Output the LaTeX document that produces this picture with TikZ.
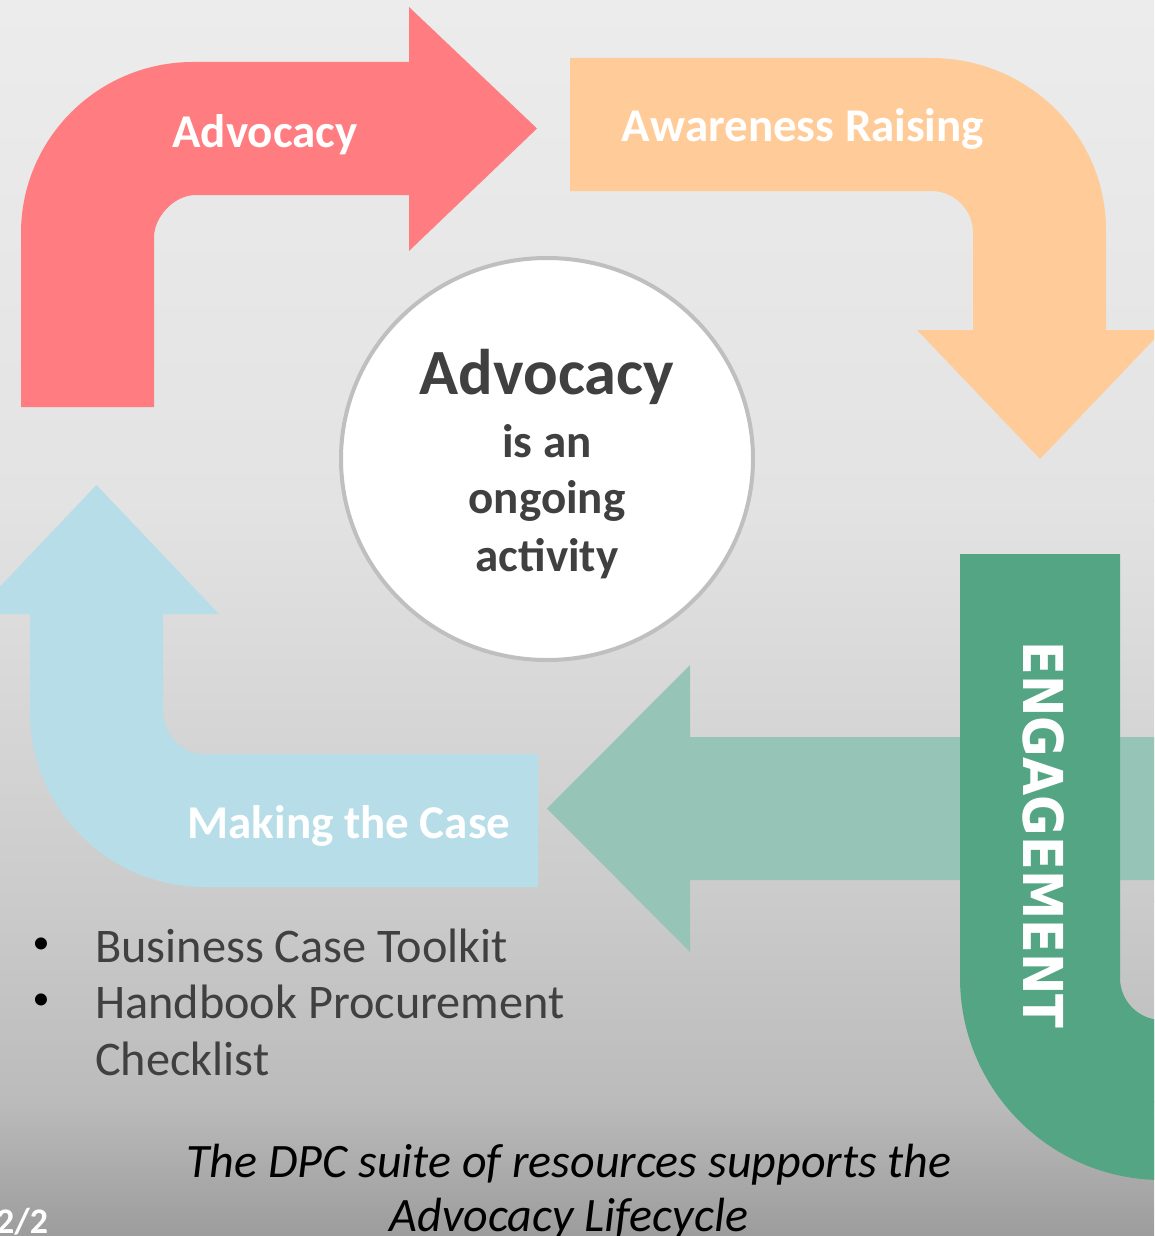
\documentclass[tikz,border=0pt]{standalone}
\usepackage{fontspec}
\setmainfont{Carlito}
\newfontfamily\engfont{DejaVu Sans Condensed}
\definecolor{redA}{HTML}{FF7C80}
\definecolor{orangeA}{HTML}{FFCC99}
\definecolor{blueA}{HTML}{B7DEE8}
\definecolor{tealA}{HTML}{96C4B7}
\definecolor{greenA}{HTML}{53A584}
\definecolor{txtgray}{HTML}{404040}
\definecolor{ringgray}{HTML}{BFBFBF}
\definecolor{bgA}{HTML}{EBECEB}
\definecolor{bgB}{HTML}{E3E3E3}
\definecolor{bgC}{HTML}{CBCBCB}
\definecolor{bgD}{HTML}{BBBBBB}
\definecolor{bgE}{HTML}{9C9C9C}
\begin{document}
\begin{tikzpicture}[x=1pt,y=-1pt,
  lbl/.style={text=white,font=\fontsize{47}{56}\selectfont\bfseries,inner sep=0pt,anchor=base},
  ctr/.style={text=txtgray,font=\fontsize{47}{56}\selectfont\bfseries,inner sep=0pt,anchor=base},
  bul/.style={text=txtgray,font=\fontsize{48.3}{56}\selectfont,inner sep=0pt,anchor=base west},
  dot/.style={text=black,font=\fontsize{34}{40}\selectfont,inner sep=0pt,anchor=center},
  capt/.style={text=black,font=\fontsize{48}{56}\selectfont\itshape,inner sep=0pt,anchor=base}]
\useasboundingbox (0,0) rectangle (1154,1236);
\clip (0,0) rectangle (1154,1236);
% background
\shade[top color=bgA,bottom color=bgB] (-2,-2) rectangle (1156,502);
\shade[top color=bgB,bottom color=bgC] (-2,500) rectangle (1156,902);
\shade[top color=bgC,bottom color=bgD] (-2,900) rectangle (1156,1102);
\shade[top color=bgD,bottom color=bgE] (-2,1100) rectangle (1156,1238);
% red arrow (Advocacy)
\fill[redA] (21,407) -- (21,233) .. controls (21,138.6) and (98,62) .. (193,62)
  -- (409,62) -- (409,7) -- (537,128.5) -- (409,251) -- (409,195) -- (196,195)
  .. controls (172.8,195) and (154,218.2) .. (154,237) -- (154,407) -- cycle;
% orange arrow (Awareness Raising)
\fill[orangeA] (570,58) -- (931,58) .. controls (1027.7,58) and (1106,135) .. (1106,230)
  -- (1106,330) -- (1163,330) -- (1040,459) -- (917,330) -- (973,330) -- (973,233)
  .. controls (973,209.3) and (954.2,191) .. (931,191) -- (570,191) -- cycle;
% blue arrow (Making the Case)
\fill[blueA] (30,712) -- (30,614) -- (-26,614) -- (96.5,485) -- (219,614) -- (163,614)
  -- (163,710) .. controls (163,733.7) and (180.9,754) .. (203,754) -- (538,754)
  -- (538,887) -- (205,887) .. controls (108.3,887) and (30,808.7) .. (30,712) -- cycle;
% light teal arrow
\fill[tealA] (1170,737) -- (690,737) -- (690,665) -- (547,808.5) -- (690,952)
  -- (690,880) -- (1170,880) -- cycle;
% dark green bent shape
\fill[greenA] (960,554) -- (1120,554) -- (1120,978) .. controls (1120,1001.2) and (1138.8,1020) .. (1162,1020)
  -- (1170,1020) -- (1170,1180) -- (1162,1180) .. controls (1050.4,1180) and (960,1089.6) .. (960,978) -- cycle;
% labels
\node[lbl] (adv) at (265,147) {Advocacy};
\node[lbl] (awr) at (803,141) {Awareness Raising};
\node[lbl] (mtc) at (349,838) {Making the Case};
\node[text=white,font=\engfont\bfseries\fontsize{55}{60}\selectfont,inner sep=0pt,rotate=-90] (eng) at (1044,835) {ENGAGEMENT};
% centre circle
\draw[ringgray,line width=4pt,fill=white] (547,459) ellipse [x radius=206,y radius=201];
\node[ctr,font=\fontsize{64.5}{70}\selectfont\bfseries] (c1) at (547,394) {Advocacy};
\node[ctr] (c2) at (547,457) {is an};
\node[ctr] (c3) at (547,513) {ongoing};
\node[ctr] (c4) at (547,571) {activity};
% bullets
\node[dot] (d1) at (41,946) {\textbullet};
\node[bul] (b1) at (95,962) {Business Case Toolkit};
\node[dot] (d2) at (41,1002) {\textbullet};
\node[bul] (b2) at (95,1018) {Handbook Procurement};
\node[bul] (b3) at (95,1075) {Checklist};
% caption
\node[capt] (cap1) at (569,1177) {The DPC suite of resources supports the};
\node[capt] (cap2) at (569,1231) {Advocacy Lifecycle};
\node[text=white,font=\fontsize{36}{40}\selectfont\bfseries,inner sep=0pt,anchor=base west] (pg) at (-4,1233) {2/2};
\end{tikzpicture}
\end{document}
